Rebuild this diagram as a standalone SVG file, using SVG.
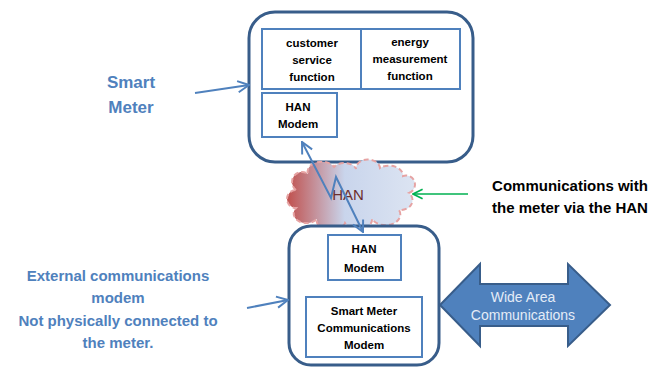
<svg xmlns="http://www.w3.org/2000/svg" width="656" height="376" viewBox="0 0 656 376">
<defs>
<linearGradient id="cg" x1="0" y1="0" x2="1" y2="0">
<stop offset="0" stop-color="#C0504D"/>
<stop offset="0.45" stop-color="#C9D5EC"/>
<stop offset="1" stop-color="#DCE4F2"/>
</linearGradient>
<marker id="ah" viewBox="0 0 10 10" refX="9" refY="5" markerWidth="7" markerHeight="7" orient="auto-start-reverse" markerUnits="strokeWidth">
<path d="M1,1 L9,5 L1,9" fill="none" stroke="#4F81BD" stroke-width="1.4"/>
</marker>
<marker id="ahg" viewBox="0 0 10 10" refX="9" refY="5" markerWidth="8" markerHeight="8" orient="auto" markerUnits="strokeWidth">
<path d="M1,1 L9,5 L1,9" fill="none" stroke="#00B050" stroke-width="1.4"/>
</marker>
</defs>
<style>
.outer{fill:#fff;stroke:#385D8A;stroke-width:3}
.inner{fill:#fff;stroke:#4F81BD;stroke-width:2}
.t{font-family:"Liberation Sans",Arial,sans-serif;font-weight:bold;font-size:11.5px;fill:#000;text-anchor:middle}
.lbl{font-family:"Liberation Sans",Arial,sans-serif;font-weight:bold;fill:#4F81BD;text-anchor:middle}
.conn{fill:none;stroke:#4F81BD;stroke-width:2}
</style>
<g id="smart-meter">
<rect class="outer" x="249" y="12" width="224" height="150" rx="26"/>
</g>
<g id="customer-service">
<rect class="inner" x="262" y="29" width="99" height="60"/>
<text class="t" x="312" y="47">customer</text>
<text class="t" x="312" y="64">service</text>
<text class="t" x="312" y="81">function</text>
</g>
<g id="energy-measurement">
<rect class="inner" x="361" y="29" width="99" height="60"/>
<text class="t" x="410" y="46">energy</text>
<text class="t" x="410" y="63">measurement</text>
<text class="t" x="410" y="80">function</text>
</g>
<g id="han-modem-top">
<rect class="inner" x="262" y="93" width="75" height="44"/>
<text class="t" x="298" y="111">HAN</text>
<text class="t" x="298" y="128">Modem</text>
</g>
<g id="han-cloud">
<path d="M296,190 A10 10 0 0 1 308,174 A14 10 0 0 1 334,167 A12 8 0 0 1 356,169 A12 9 0 0 1 380,168 A14 10 0 0 1 403,176 A9 9 0 0 1 409,193 A12 10 0 0 1 399,210 A14 10 0 0 1 372,219 A14 9 0 0 1 345,223 A14 9 0 0 1 317,219 A12 9 0 0 1 296,208 A9 9 0 0 1 296,190 Z" fill="url(#cg)" stroke="#E6A3A3" stroke-width="2" stroke-dasharray="5,3"/>
<text x="348" y="200" font-family="Liberation Sans,Arial,sans-serif" font-size="15" fill="#6B2E2E" text-anchor="middle">HAN</text>
</g>
<g id="comm-box">
<rect class="outer" x="289" y="226" width="150" height="139" rx="22"/>
</g>
<g id="han-modem-bottom">
<rect class="inner" x="328" y="235" width="73" height="45"/>
<text class="t" x="364" y="253">HAN</text>
<text class="t" x="364" y="272">Modem</text>
</g>
<g id="sm-comm-modem">
<rect class="inner" x="306" y="297" width="116" height="60"/>
<text class="t" x="364" y="315">Smart Meter</text>
<text class="t" x="364" y="332">Communications</text>
<text class="t" x="364" y="349">Modem</text>
</g>
<g id="wide-area">
<path d="M440,305 L480,264 L480,284 L568,284 L568,264 L610,305 L568,346 L568,326 L480,326 L480,346 Z" fill="#4F81BD" stroke="#385D8A" stroke-width="2"/>
<text x="523" y="302" font-family="Liberation Sans,Arial,sans-serif" font-size="14" fill="#E4ECF7" text-anchor="middle">Wide Area</text>
<text x="523" y="320" font-family="Liberation Sans,Arial,sans-serif" font-size="14" fill="#E4ECF7" text-anchor="middle">Communications</text>
</g>
<g id="labels">
<text class="lbl" x="131" y="88" font-size="17">Smart</text>
<text class="lbl" x="131" y="113" font-size="17">Meter</text>
<text class="lbl" x="118" y="281" font-size="15">External communications</text>
<text class="lbl" x="118" y="303" font-size="15">modem</text>
<text class="lbl" x="118" y="326" font-size="15">Not physically connected to</text>
<text class="lbl" x="118" y="348" font-size="15">the meter.</text>
<text x="570" y="191" font-family="Liberation Sans,Arial,sans-serif" font-weight="bold" font-size="15" text-anchor="middle" fill="#000">Communications with</text>
<text x="570" y="213" font-family="Liberation Sans,Arial,sans-serif" font-weight="bold" font-size="15" text-anchor="middle" fill="#000">the meter via the HAN</text>
</g>
<g id="connectors">
<polyline class="conn" points="302,142 331,198 336,177 363,232" marker-start="url(#ah)" marker-end="url(#ah)"/>
<line class="conn" x1="195" y1="93" x2="249" y2="85" marker-end="url(#ah)"/>
<line class="conn" x1="247" y1="308" x2="288" y2="300" marker-end="url(#ah)"/>
<line x1="468" y1="194" x2="413" y2="194" stroke="#00B050" stroke-width="1.5" marker-end="url(#ahg)"/>
</g>
</svg>
